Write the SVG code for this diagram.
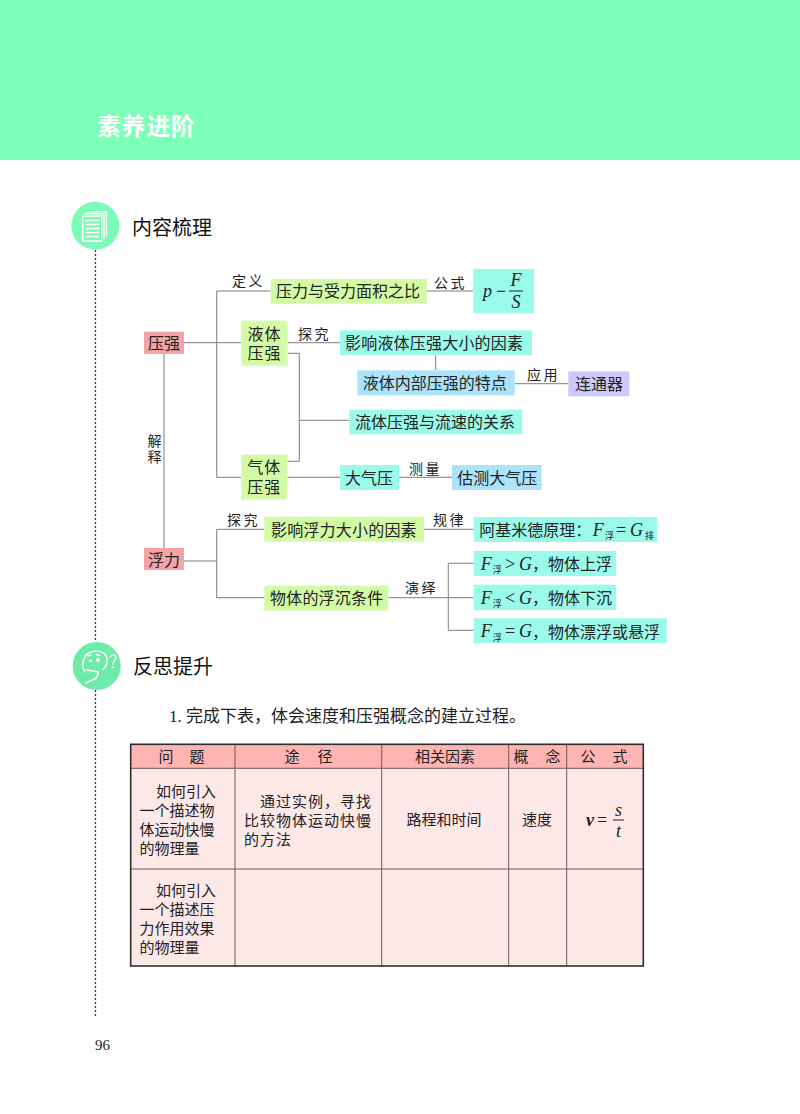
<svg xmlns="http://www.w3.org/2000/svg" width="800" height="1114" viewBox="0 0 800 1114">
<style>
text{font-family:"Noto Sans CJK SC","Noto Sans",sans-serif;fill:#222}
.n{font-size:16px}
.c{text-anchor:middle}
.l{font-size:14px;letter-spacing:2.500px}
.h{font-size:20px;fill:#111}
.t{font-size:15px}
.m{font-family:"Liberation Serif",serif;font-style:italic;font-size:18px}
.o{font-family:"Liberation Serif",serif;font-size:18px}
.s{font-size:9px}
.red{fill:#f4a3a6}.lime{fill:#d3fba5}.cyan{fill:#9bfbea}.blue{fill:#abe3fb}.vio{fill:#cfc9fa}
#connectors path{fill:none;stroke:#7d7d7d;stroke-width:1}
.ic{fill:none;stroke:#fff;stroke-width:1.400;stroke-linecap:round;stroke-linejoin:round}
.tl{stroke:#6e5a5a;stroke-width:1;fill:none}
</style>
<rect width="800" height="1114" fill="#fff"/>
<g id="banner"><rect width="800" height="160" fill="#7cffb6"/><text x="97" y="134.500" font-size="24" font-weight="700" letter-spacing=".6" style="fill:#fff">素养进阶</text></g>
<path d="M95.500 250V642M95.500 690V1016" stroke="#333" stroke-width="1.200" stroke-dasharray="2 2" fill="none"/>
<g id="icon-content"><circle cx="95.300" cy="225.700" r="24" fill="#7cfbb6"/>
<path class="ic" d="M85 213.700H104V238M88 211.800H106.500V235.500"/><rect class="ic" x="82.700" y="216" width="19" height="25" /><path class="ic" d="M86 220.500H98.500M86 224.500H98.500M86 228.500H98.500M86 232.500H98.500M86 236.500H98.500"/></g>
<text class="h" x="132" y="234.500">内容梳理</text>
<g id="icon-reflect"><circle cx="96.700" cy="666" r="24" fill="#6feba9"/>
<path class="ic" d="M85 672C80 664 84 653 93 651.500C102 650 108 654 107 662C106.500 666 105 668 103 669.500"/><path class="ic" d="M87 670L98.500 672L96.500 678L86 683"/><circle cx="90.700" cy="660.700" r="1.600" fill="#fff"/><circle cx="98" cy="660" r="2" fill="#fff"/><path class="ic" d="M88 656L91 655M96 654.500L100 655.500"/><path class="ic" d="M110.500 657C111 654 116 654 115.800 658C115.600 660.500 113 661 112.800 664"/><circle cx="112.700" cy="667.200" r="1" fill="#fff"/></g>
<text class="h" x="133" y="673.500">反思提升</text>
<g id="connectors">
<path d="M184 342.700H241.300M216.700 291V477.300M216.700 291H270.700M216.700 477.300H241.300"/>
<path d="M164 354V548"/>
<path d="M426.700 291H473.300"/>
<path d="M287.700 342.700H340M287.700 353.300H299.300V461.300H287.300M299.300 420.300H349.300"/>
<path d="M435.700 355.300V370.300M514.700 383.700H568.300"/>
<path d="M287.300 477.300H340M399 477.300H452"/>
<path d="M184 561H216.700M216.700 529.300V597.700M216.700 529.300H264.300M216.700 597.700H264.300"/>
<path d="M424 529.300H473.700M388.300 597.700H473.700M448.300 563.300V630.300M448.300 563.300H473.700M448.300 630.300H473.700"/>
</g>
<g id="edge-labels" class="l">
<text x="232" y="286">定义</text><text x="298" y="339">探究</text><text x="434" y="288">公式</text><text x="527" y="380">应用</text><text x="409" y="474">测量</text><text x="227" y="525">探究</text><text x="433" y="525">规律</text><text x="405" y="593">演绎</text>
<text text-anchor="middle" style="letter-spacing:0"><tspan x="154.500" y="446">解</tspan><tspan x="154.500" y="462">释</tspan></text>
</g>
<g id="n-yaqiang"><rect class="red" x="144" y="331.700" width="40" height="22.300"/><text class="n c" x="164" y="348.800">压强</text></g>
<g id="n-ratio"><rect class="lime" x="270.700" y="279" width="156" height="24.700"/><text class="n" x="276" y="297">压力与受力面积之比</text></g>
<g id="n-formula"><rect class="cyan" x="473.300" y="269" width="60.700" height="44.300"/><text class="m" x="483" y="297">p</text><text class="o" x="496" y="297">−</text><text class="m c" x="516" y="286" font-size="16">F</text><path d="M509 291H523" stroke="#222"/><text class="m c" x="516" y="308">S</text></g>
<g id="n-yeti"><rect class="lime" x="241.300" y="320.700" width="46.400" height="45"/><text class="n c" letter-spacing="1"><tspan x="264.500" y="339.800">液体</tspan><tspan x="264.500" y="359.200">压强</tspan></text></g>
<g id="n-factors"><rect class="cyan" x="340" y="330.300" width="192" height="25"/><text class="n" x="345" y="348.600" letter-spacing=".2">影响液体压强大小的因素</text></g>
<g id="n-features"><rect class="blue" x="357.300" y="370.300" width="157.400" height="25"/><text class="n" x="362.700" y="389">液体内部压强的特点</text></g>
<g id="n-liantong"><rect class="vio" x="568.300" y="371.300" width="61" height="25"/><text class="n" x="575" y="390">连通器</text></g>
<g id="n-flow"><rect class="cyan" x="349.300" y="409.700" width="173" height="24.600"/><text class="n" x="355" y="428">流体压强与流速的关系</text></g>
<g id="n-qiti"><rect class="lime" x="241.300" y="454.700" width="46" height="45"/><text class="n c" letter-spacing="1"><tspan x="264.300" y="472.500">气体</tspan><tspan x="264.300" y="493">压强</tspan></text></g>
<g id="n-daqi"><rect class="cyan" x="340" y="465" width="59" height="25"/><text class="n" x="345" y="483.500">大气压</text></g>
<g id="n-guce"><rect class="blue" x="452" y="465" width="89.700" height="25"/><text class="n" x="457.300" y="483.500">估测大气压</text></g>
<g id="n-fuli"><rect class="red" x="144" y="548" width="40" height="22"/><text class="n c" x="164" y="566">浮力</text></g>
<g id="n-fufactors"><rect class="lime" x="264.300" y="516.700" width="159.700" height="25"/><text class="n" x="271" y="535.500" letter-spacing=".2">影响浮力大小的因素</text></g>
<g id="n-sink"><rect class="lime" x="264.300" y="585.700" width="124" height="25"/><text class="n" x="270" y="604" letter-spacing=".2">物体的浮沉条件</text></g>
<g id="n-archimedes"><rect class="cyan" x="473.700" y="517" width="183.600" height="25"/><text class="n" x="479.300" y="536">阿基米德原理：</text><text class="m" x="592.700" y="535.500">F</text><text class="s" x="605" y="539">浮</text><text class="o" x="616" y="535.500">=</text><text class="m" x="630" y="535.500">G</text><text class="s" x="645" y="539">排</text></g>
<g id="n-up"><rect class="cyan" x="473.700" y="551" width="142.300" height="25"/><text class="m" x="480.700" y="569.500">F</text><text class="s" x="492.700" y="573">浮</text><text class="o" x="505" y="569.500">&gt;</text><text class="m" x="519" y="569.500">G</text><text class="n" x="532" y="570">，物体上浮</text></g>
<g id="n-down"><rect class="cyan" x="473.700" y="584.700" width="142.300" height="25.300"/><text class="m" x="480.700" y="603.500">F</text><text class="s" x="492.700" y="607">浮</text><text class="o" x="505" y="603.500">&lt;</text><text class="m" x="519" y="603.500">G</text><text class="n" x="532" y="604">，物体下沉</text></g>
<g id="n-float"><rect class="cyan" x="473.700" y="618.300" width="193" height="25"/><text class="m" x="480.700" y="637">F</text><text class="s" x="492.700" y="640.500">浮</text><text class="o" x="505" y="637">=</text><text class="m" x="519" y="637">G</text><text class="n" x="532" y="637.500">，物体漂浮或悬浮</text></g>
<text x="169" y="722" font-size="17"><tspan style="font-family:'Liberation Serif',serif">1.</tspan><tspan x="186">完成下表，体会速度和压强概念的建立过程。</tspan></text>
<g id="table">
<rect x="130.700" y="744.300" width="512.600" height="221.700" fill="#fde8e8"/>
<rect x="130.700" y="744.300" width="512.600" height="24" fill="#ffb4b4"/>
<path class="tl" d="M130.700 768.300H643.300M130.700 869H643.300M235 744.300V966M381.700 744.300V966M508.700 744.300V966M566.700 744.300V966"/>
<rect x="130.700" y="744.300" width="512.600" height="221.700" fill="none" stroke="#2e2e2e" stroke-width="1.600"/>
<g class="t">
<text class="c" x="166" y="762">问</text><text class="c" x="197" y="762">题</text>
<text class="c" x="292" y="762">途</text><text class="c" x="325" y="762">径</text>
<text class="c" x="445" y="762">相关因素</text>
<text class="c" x="521" y="762">概</text><text class="c" x="553" y="762">念</text>
<text class="c" x="588" y="762">公</text><text class="c" x="620" y="762">式</text>
<text><tspan x="156" y="796.500">如何引入</tspan><tspan x="139.500" y="815.500">一个描述物</tspan><tspan x="139.500" y="834.500">体运动快慢</tspan><tspan x="139.500" y="853.500">的物理量</tspan></text>
<text letter-spacing="1"><tspan x="260" y="806.500">通过实例，寻找</tspan><tspan x="244" y="825.500">比较物体运动快慢</tspan><tspan x="244" y="844.500">的方法</tspan></text>
<text class="c" x="444" y="824.500">路程和时间</text><text class="c" x="537" y="824.500">速度</text>
<text><tspan x="156" y="896">如何引入</tspan><tspan x="139.500" y="915">一个描述压</tspan><tspan x="139.500" y="934">力作用效果</tspan><tspan x="139.500" y="952.500">的物理量</tspan></text>
</g>
<text class="m" x="586" y="826" font-weight="700">v</text><text class="o" x="597" y="826">=</text><text class="m c" x="618.500" y="816">s</text><path d="M613 820H624" stroke="#222" stroke-width="1"/><text class="m c" x="618.500" y="837">t</text>
</g>
<text x="95" y="1050" style="font-family:'Liberation Serif',serif;font-size:15px">96</text>
</svg>
